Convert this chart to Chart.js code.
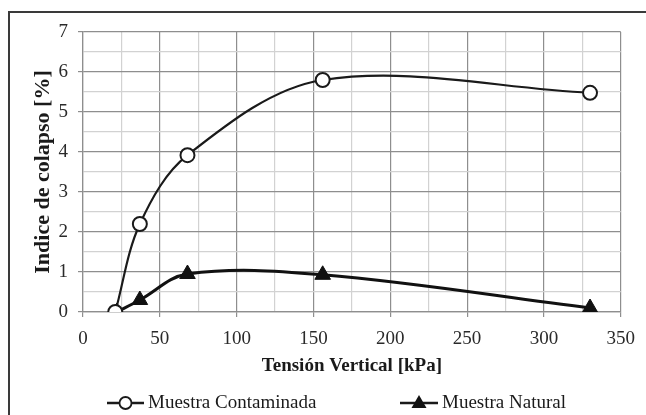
<!DOCTYPE html>
<html>
<head>
<meta charset="utf-8">
<script src="https://cdn.jsdelivr.net/npm/chart.js@4/dist/chart.umd.min.js"></script>
<style>
  html, body { margin: 0; padding: 0; background: #fff; }
  canvas { display: block; }
</style>
</head>
<body>
<canvas id="myChart" width="646" height="415"></canvas>
<script>
// datos
const seriesNames = ['Muestra Contaminada', 'Muestra Natural'];
const tensionContaminada = [21, 37, 68, 156, 330];
const colapsoContaminada = [0, 2.2, 3.92, 5.8, 5.48];
const tensionNatural = [22, 37, 68, 156, 330];
const colapsoNatural = [0, 0.3, 0.95, 0.93, 0.1];
const xMajorStep = 50;
const yMajorStep = 1;

const FONT = "'Liberation Serif', 'Times New Roman', serif";
const majorGrid = '#8e8e8e';
const minorGrid = '#d2d2d2';

function toPoints(xs, ys) {
  return xs.map((x, i) => ({ x: x, y: ys[i] }));
}

// marco exterior
const framePlugin = {
  id: 'frame',
  beforeDraw(chart) {
    const ctx = chart.ctx;
    ctx.save();
    ctx.fillStyle = '#fff';
    ctx.fillRect(0, 0, chart.width, chart.height);
    ctx.strokeStyle = '#3a3a3a';
    ctx.lineWidth = 2;
    ctx.strokeRect(9, 12, chart.width + 20, chart.height + 20);
    ctx.restore();
  }
};

// leyenda abajo con linea + marcador
const legendPlugin = {
  id: 'lineLegend',
  afterDraw(chart) {
    const ctx = chart.ctx;
    const y = 403;
    const items = [
      { x: 107, len: 37, style: 'circle' },
      { x: 400, len: 38, style: 'triangle' }
    ];
    ctx.save();
    items.forEach((it, i) => {
      ctx.strokeStyle = '#1a1a1a';
      ctx.lineWidth = 2.5;
      ctx.beginPath();
      ctx.moveTo(it.x, y);
      ctx.lineTo(it.x + it.len, y);
      ctx.stroke();
      const cx = it.x + it.len / 2;
      if (it.style === 'circle') {
        ctx.beginPath();
        ctx.arc(cx, y, 6, 0, Math.PI * 2);
        ctx.fillStyle = '#fff';
        ctx.fill();
        ctx.lineWidth = 1.8;
        ctx.stroke();
      } else {
        ctx.beginPath();
        ctx.moveTo(cx, y - 8);
        ctx.lineTo(cx + 7.5, y + 5);
        ctx.lineTo(cx - 7.5, y + 5);
        ctx.closePath();
        ctx.fillStyle = '#111';
        ctx.fill();
      }
      ctx.fillStyle = '#1a1a1a';
      ctx.font = '19px ' + FONT;
      ctx.textBaseline = 'middle';
      ctx.textAlign = 'left';
      ctx.fillText(chart.data.datasets[i].label, it.x + it.len + 4, y);
    });
    ctx.restore();
  }
};

function gridColor(c) {
  return (c.tick && Math.abs(c.tick.value % xMajorStep) < 1e-6) ? majorGrid : minorGrid;
}
function gridColorY(c) {
  return (c.tick && Math.abs(c.tick.value % yMajorStep) < 1e-6) ? majorGrid : minorGrid;
}
function tickColor(c) {
  return (c.tick && Math.abs(c.tick.value % xMajorStep) < 1e-6) ? majorGrid : 'rgba(0,0,0,0)';
}
function tickColorY(c) {
  return (c.tick && Math.abs(c.tick.value % yMajorStep) < 1e-6) ? majorGrid : 'rgba(0,0,0,0)';
}

const ctx = document.getElementById('myChart').getContext('2d');
const myChart = new Chart(ctx, {
  type: 'line',
  data: {
    datasets: [
      {
        label: seriesNames[0],
        data: toPoints(tensionContaminada, colapsoContaminada),
        borderColor: '#1a1a1a',
        borderWidth: 2.2,
        tension: 0.34,
        pointStyle: 'circle',
        pointRadius: 7,
        pointBorderWidth: 2,
        pointBorderColor: '#1a1a1a',
        pointBackgroundColor: '#fff'
      },
      {
        label: seriesNames[1],
        data: toPoints(tensionNatural, colapsoNatural),
        borderColor: '#111',
        borderWidth: 3,
        tension: 0.36,
        pointStyle: 'triangle',
        pointRadius: 9,
        pointBorderWidth: 1,
        pointBorderColor: '#111',
        pointBackgroundColor: '#111'
      }
    ]
  },
  options: {
    responsive: false,
    animation: false,
    devicePixelRatio: 1,
    layout: { padding: { left: 18, right: 23, top: 32, bottom: 38 } },
    plugins: {
      legend: { display: false },
      tooltip: { enabled: false }
    },
    scales: {
      x: {
        type: 'linear',
        min: 0,
        max: 350,
        ticks: {
          stepSize: 25,
          autoSkip: false,
          maxRotation: 0,
          padding: 11,
          color: '#2a2a2a',
          font: { family: FONT, size: 19 },
          callback: v => (v % xMajorStep === 0 ? v : '')
        },
        grid: { color: gridColor, tickColor: tickColor, tickLength: 5, lineWidth: 1.2 },
        border: { color: majorGrid, width: 1.2 },
        title: {
          display: true,
          text: 'Tensión Vertical [kPa]',
          color: '#1a1a1a',
          font: { family: FONT, size: 19, weight: 'bold' },
          padding: { top: 0, bottom: 0 }
        },
        afterFit(scale) { scale.height = 65; }
      },
      y: {
        min: 0,
        max: 7,
        ticks: {
          stepSize: 0.5,
          autoSkip: false,
          padding: 10,
          color: '#2a2a2a',
          font: { family: FONT, size: 19 },
          callback: v => (Number.isInteger(v) ? v : '')
        },
        grid: { color: gridColorY, tickColor: tickColorY, tickLength: 5, lineWidth: 1.2 },
        border: { color: majorGrid, width: 1.2 },
        title: {
          display: true,
          text: 'Indice de colapso [%]',
          color: '#1a1a1a',
          font: { family: FONT, size: 22, weight: 'bold' },
          padding: { top: 12, bottom: 0 }
        },
        afterFit(scale) { scale.width = 65; }
      }
    }
  },
  plugins: [framePlugin, legendPlugin]
});
</script>
</body>
</html>
